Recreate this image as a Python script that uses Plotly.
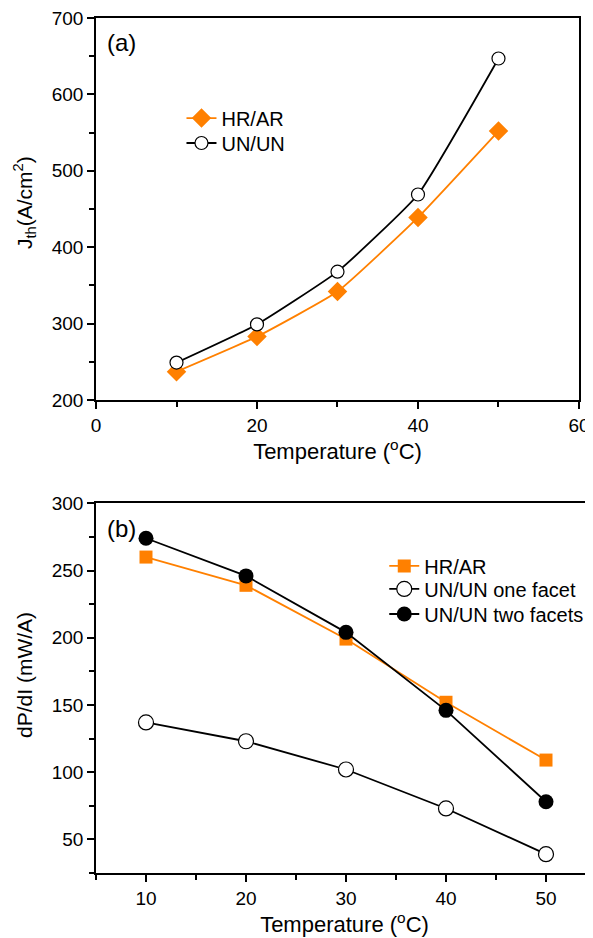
import plotly.graph_objects as go

# ---- data ----
temp_a = [10, 20, 30, 40, 50]
jth_hrar = [237, 283, 342, 439, 552]
jth_unun = [249, 299, 368, 469, 647]

temp_b = [10, 20, 30, 40, 50]
dpdi_hrar = [260, 239, 199, 152, 109]
dpdi_one = [137, 123, 102, 73, 39]
dpdi_two = [274, 246, 204, 146, 78]

ORANGE = "#FF8000"
FONT = "Liberation Sans, Arial, sans-serif"
TICK_FS = 19
TITLE_FS = 22
LEG_FS = 20

fig = go.Figure()

# panel (a)
fig.add_trace(go.Scatter(x=temp_a, y=jth_hrar, name="HR/AR", mode="lines+markers",
                         line=dict(color=ORANGE, width=1.8, shape="spline", smoothing=0.4),
                         marker=dict(symbol="diamond", size=15, color=ORANGE),
                         xaxis="x", yaxis="y", legend="legend"))
fig.add_trace(go.Scatter(x=temp_a, y=jth_unun, name="UN/UN", mode="lines+markers",
                         line=dict(color="black", width=1.8, shape="spline", smoothing=0.4),
                         marker=dict(symbol="circle", size=13, color="white",
                                     line=dict(color="black", width=1.2)),
                         xaxis="x", yaxis="y", legend="legend2"))

# panel (b)
fig.add_trace(go.Scatter(x=temp_b, y=dpdi_hrar, name="HR/AR", mode="lines+markers",
                         line=dict(color=ORANGE, width=1.8),
                         marker=dict(symbol="square", size=13, color=ORANGE),
                         xaxis="x2", yaxis="y2", legend="legend3"))
fig.add_trace(go.Scatter(x=temp_b, y=dpdi_one, name="UN/UN one facet", mode="lines+markers",
                         line=dict(color="black", width=1.8),
                         marker=dict(symbol="circle", size=15, color="white",
                                     line=dict(color="black", width=1.2)),
                         xaxis="x2", yaxis="y2", legend="legend4"))
fig.add_trace(go.Scatter(x=temp_b, y=dpdi_two, name="UN/UN two facets", mode="lines+markers",
                         line=dict(color="black", width=1.8),
                         marker=dict(symbol="circle", size=15, color="black"),
                         xaxis="x2", yaxis="y2", legend="legend5"))

axis_common = dict(showgrid=False, zeroline=False, showline=True, linecolor="black",
                   linewidth=1.5, ticks="outside", ticklen=7, tickwidth=1.5,
                   tickcolor="black", automargin=False, ticklabeloverflow="allow",
                   tickfont=dict(family=FONT, size=TICK_FS, color="black"))
minor_common = dict(ticks="outside", ticklen=5, tickwidth=1.5, tickcolor="black")


def leg(x, y):
    return dict(x=x, y=y, xref="paper", yref="paper", xanchor="left", yanchor="middle",
                bgcolor="rgba(0,0,0,0)", font=dict(family=FONT, size=LEG_FS),
                itemwidth=30)


fig.update_layout(
    width=585, height=930,
    margin=dict(l=88, r=0, t=10, b=65, autoexpand=False),
    paper_bgcolor="white", plot_bgcolor="white",
    font=dict(family=FONT, size=TICK_FS, color="black"),
    xaxis=dict(**axis_common, domain=[0, 0.9718], range=[0, 60], dtick=20, tick0=0,
               mirror=True, anchor="y",
               minor=dict(**minor_common, dtick=10),
               title=dict(text="Temperature (<sup>o</sup>C)", standoff=4,
                          font=dict(family=FONT, size=TITLE_FS))),
    yaxis=dict(**axis_common, domain=[0.5532, 1], range=[200, 700], dtick=100, tick0=0,
               mirror=True, anchor="x",
               minor=dict(**minor_common, dtick=50)),
    xaxis2=dict(**axis_common, domain=[0, 1], range=[5, 54.7], dtick=10, tick0=0,
                mirror=True, anchor="y2",
                minor=dict(**minor_common, dtick=5),
                title=dict(text="Temperature (<sup>o</sup>C)", standoff=4,
                           font=dict(family=FONT, size=TITLE_FS))),
    yaxis2=dict(**axis_common, domain=[0, 0.4324], range=[25, 300], dtick=50, tick0=0,
                mirror=False, anchor="x2",
                minor=dict(**minor_common, dtick=25)),
    legend=leg(0.172, 0.8830),
    legend2=leg(0.172, 0.8538),
    legend3=leg(0.58, 0.3591),
    legend4=leg(0.58, 0.3322),
    legend5=leg(0.58, 0.3029),
    showlegend=True,
    annotations=[
        dict(text="(a)", x=0.019, y=0.9708, xref="paper", yref="paper", xanchor="left",
             yanchor="middle", showarrow=False, font=dict(family=FONT, size=24)),
        dict(text="(b)", x=0.019, y=0.4035, xref="paper", yref="paper", xanchor="left",
             yanchor="middle", showarrow=False, font=dict(family=FONT, size=24)),
        dict(text="J<sub>th</sub>(A/cm<sup>2</sup>)", x=-0.1429, y=0.7848, xref="paper",
             yref="paper", xanchor="center", yanchor="middle", textangle=-90,
             showarrow=False, font=dict(family=FONT, size=21)),
        dict(text="dP/dI (mW/A)", x=-0.1429, y=0.2316, xref="paper",
             yref="paper", xanchor="center", yanchor="middle", textangle=-90,
             showarrow=False, font=dict(family=FONT, size=21)),
    ],
)

fig.write_html("out.html")
